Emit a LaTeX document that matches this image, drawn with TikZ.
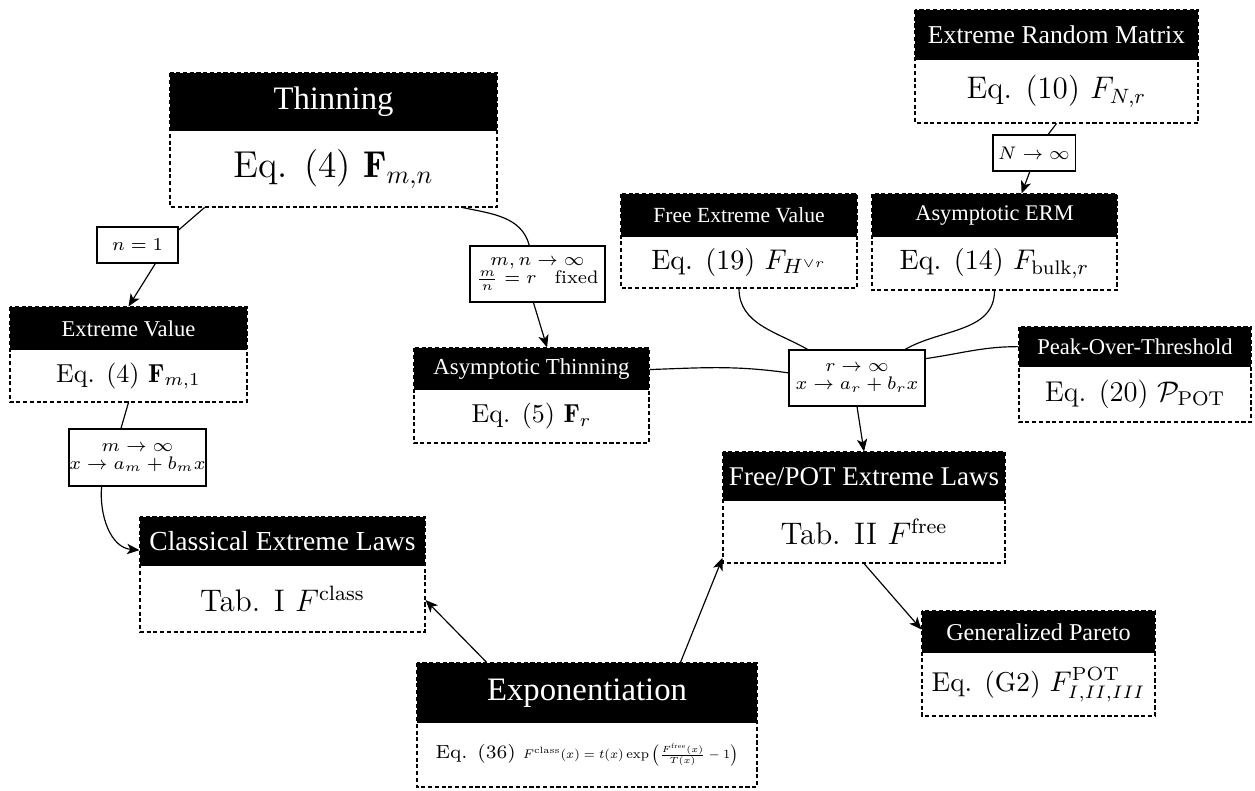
\documentclass[tikz,border=0pt]{standalone}
\usepackage{fontspec}
\usepackage{graphicx}
\newfontfamily\hd{Liberation Serif}
\usetikzlibrary{arrows.meta,fit,calc}
\newcommand\fs[1]{\fontsize{#1}{#1}\selectfont}
\newcommand\px[1]{#1*0.385pt}
\tikzset{
 dbord/.style={draw=black, line width=0.7pt, dash pattern=on 1.6pt off 1pt},
 hdtext/.style={text=white, inner sep=0pt, font=\hd},
 bdtext/.style={inner sep=0pt},
 conn/.style={line width=0.45pt},
 arr/.style={conn,-{Stealth[length=4.8pt,width=4pt,inset=1.3pt]}},
 lab/.style={draw, line width=0.4pt, fill=white, align=center, inner sep=0pt, font=\fs{7}},
}
% name, x1, y1, x2, y2, yheader, header, body
\newcommand\dbox[8]{%
 \fill[black] (#2,#3) rectangle (#4,#6);
 \draw[dbord] (#2,#3) rectangle (#4,#5);
 \node[fit={(#2,#3)(#4,#5)},inner sep=0pt] (#1) {};
 \node[hdtext] (#1h) at ({(#2+#4)/2},{(#3+#6)/2}) {#7};
 \node[bdtext] (#1b) at ({(#2+#4)/2},{(#6+#5)/2}) {#8};
}
\begin{document}
\begin{tikzpicture}[x=0.385pt,y=-0.385pt]
\fill[white] (0,0) rectangle (1255,791);
\useasboundingbox (0,0) rectangle (1255,791);

\dbox{thin}{170}{73}{497}{207}{131}{\fs{12.6}Thinning}{\fs{14.4}Eq. (4) $\mathbf{F}_{m,n}$}
\dbox{erm}{915}{10}{1198}{123}{60}{\fs{9.9}Extreme Random Matrix}{\fs{12}Eq. (10) $F_{N,r}$}
\dbox{fev}{621}{194}{857}{288}{237}{\fs{8.3}Free Extreme Value}{\fs{10.8}Eq. (19) $F_{H^{\vee r}}$}
\dbox{aerm}{872}{194}{1117}{290}{237}{\fs{8.6}Asymptotic ERM}{\fs{10.8}Eq. (14) $F_{\mathrm{bulk},r}$}
\dbox{ev}{10}{307}{247}{402}{350}{\fs{8.7}Extreme Value}{\fs{10}Eq. (4) $\mathbf{F}_{m,1}$}
\dbox{at}{414}{348}{649}{443}{390}{\fs{8.8}Asymptotic Thinning}{\fs{10}Eq. (5) $\mathbf{F}_r$}
\dbox{pot}{1019}{327}{1251}{422}{367}{\fs{8.7}Peak-Over-Threshold}{\fs{11}Eq. (20) $\mathcal{P}_{\mathrm{POT}}$}
\dbox{fpot}{723}{452}{1005}{563}{501}{\fs{10.4}Free/POT Extreme Laws}{\fs{12}Tab. II $F^{\mathrm{free}}$}
\dbox{cl}{140}{517}{425}{632}{566}{\fs{10.6}Classical Extreme Laws}{\fs{12}Tab. I $F^{\mathrm{class}}$}
\dbox{gp}{922}{611}{1155}{716}{653}{\fs{9.3}Generalized Pareto}{\fs{10.5}Eq. (G2) $F^{\mathrm{POT}}_{I,II,III}$}
\dbox{ex}{417}{663}{757}{787}{723}{\fs{12.6}Exponentiation}{\fs{7.3}Eq. (36) \scalebox{0.69}{$F^{\mathrm{class}}(x)=t(x)\exp\left(\frac{F^{\mathrm{free}}(x)}{T(x)}-1\right)$}}

% labels
\node[lab, minimum width=\px{81}, minimum height=\px{36}] (ln) at (137.5,245) {$n=1$};
\node[lab, minimum width=\px{137}, minimum height=\px{57}] (lm) at (137.5,457.5) {$m\to\infty$\\$x\to a_m+b_mx$};
\node[lab, minimum width=\px{135}, minimum height=\px{56}] (lmn) at (537.5,274) {$m,n\to\infty$\\$\frac{m}{n}=r\quad\mathrm{fixed}$};
\node[lab, minimum width=\px{82}, minimum height=\px{36}] (lN) at (1034,153) {$N\to\infty$};
\node[lab, minimum width=\px{136}, minimum height=\px{56}] (lr) at (857,378) {$r\to\infty$\\$x\to a_r+b_rx$};

% connectors
\draw[conn] ($(thin.south west)!0.107!(thin.south east)$) -- (ln.20);
\draw[arr] (ln.-46) -- (ev.north);
\draw[conn] ($(ev.south west)!0.5!(ev.south east)$) -- ($(lm.north west)!0.38!(lm.north east)$);
\draw[arr] ($(lm.south west)!0.24!(lm.south east)$) to[out=-95,in=175] ($(cl.north west)!0.29!(cl.south west)$);
\draw[conn] ($(thin.south west)!0.893!(thin.south east)$) to[out=-12,in=105] ($(lmn.north west)!0.44!(lmn.north east)$);
\draw[arr] ($(lmn.south west)!0.47!(lmn.south east)$) -- ($(at.north west)!0.566!(at.north east)$);
\draw[conn] (erm.south) -- ($(lN.north west)!0.67!(lN.north east)$);
\draw[arr] ($(lN.south west)!0.45!(lN.south east)$) -- ($(aerm.north west)!0.61!(aerm.north east)$);
\draw[conn] (fev.south) to[out=-90,in=150] ($(lr.north west)!0.14!(lr.north east)$);
\draw[conn] (aerm.south) to[out=-90,in=30] ($(lr.north west)!0.85!(lr.north east)$);
\draw[conn] ($(at.north east)!0.23!(at.south east)$) to[out=2,in=172] ($(lr.north west)!0.41!(lr.south west)$);
\draw[conn] ($(pot.north west)!0.21!(pot.south west)$) to[out=180,in=8] ($(lr.north east)!0.16!(lr.south east)$);
\draw[arr] (lr.south) -- (fpot.north);
\draw[arr] (fpot.south) -- ($(gp.north west)!0.18!(gp.south west)$);
\draw[arr] ($(ex.north west)!0.206!(ex.north east)$) -- ($(cl.north east)!0.72!(cl.south east)$);
\draw[arr] ($(ex.north west)!0.774!(ex.north east)$) -- ($(fpot.north west)!0.95!(fpot.south west)$);
\end{tikzpicture}
\end{document}
